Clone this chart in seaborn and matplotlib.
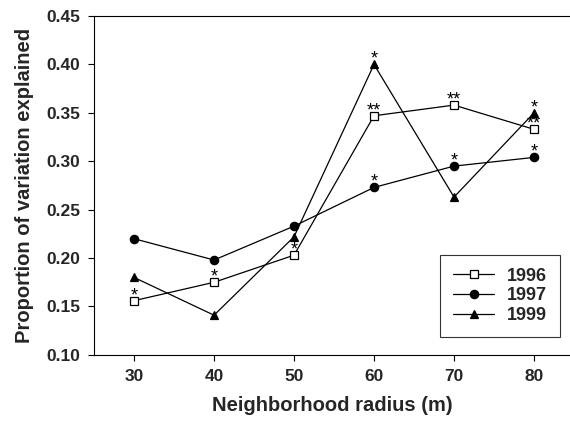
import matplotlib
matplotlib.use("Agg")
import matplotlib.pyplot as plt
import seaborn as sns
import pandas as pd

radius = [30, 40, 50, 60, 70, 80]
v1996 = [0.156, 0.175, 0.203, 0.347, 0.358, 0.333]
v1997 = [0.220, 0.198, 0.233, 0.273, 0.295, 0.304]
v1999 = [0.180, 0.141, 0.222, 0.400, 0.263, 0.350]
sig1996 = ["*", "*", "*", "**", "**", "**"]
sig1997 = ["", "", "", "*", "*", "*"]
sig1999 = ["", "", "", "*", "", "*"]
yticks = [0.10, 0.15, 0.20, 0.25, 0.30, 0.35, 0.40, 0.45]
xticks = [30, 40, 50, 60, 70, 80]

sns.set_style("white")
plt.rcParams['font.family'] = ['Liberation Sans', 'DejaVu Sans']

fig = plt.figure(figsize=(5.7, 4.22), dpi=100)
ax = fig.add_axes([0.165, 0.159, 0.835, 0.803])

series = [
    ("1996", v1996, sig1996, dict(marker="s", markerfacecolor="white", markeredgecolor="black", markersize=5.5)),
    ("1997", v1997, sig1997, dict(marker="o", markerfacecolor="black", markeredgecolor="black", markersize=6)),
    ("1999", v1999, sig1999, dict(marker="^", markerfacecolor="black", markeredgecolor="black", markersize=6)),
]

for name, vals, sigs, mk in series:
    df = pd.DataFrame({"radius": radius, "value": vals})
    sns.lineplot(data=df, x="radius", y="value", ax=ax, color="black", linewidth=0.9,
                 label=name, markeredgewidth=0.9, **mk)
    for x, y, s in zip(radius, vals, sigs):
        if s:
            ax.annotate(s, (x, y), xytext=(0, 0.5), textcoords="offset points",
                        ha="center", va="baseline", fontsize=13, color="black",
                        zorder=10)

ax.set_xlim(25, 84.5)
ax.set_ylim(0.10, 0.45)
ax.set_xticks(xticks)
ax.set_yticks(yticks)
ax.set_xticklabels([str(x) for x in xticks], fontsize=12.5, fontweight="bold")
ax.set_yticklabels([f"{y:.2f}" for y in yticks], fontsize=12.5, fontweight="bold")
ax.tick_params(axis="both", direction="out", length=4, width=0.8, color="black",
               bottom=True, left=True, pad=6)
ax.set_xlabel("Neighborhood radius (m)", fontsize=14.5, fontweight="bold", labelpad=9)
ax.set_ylabel("Proportion of variation explained", fontsize=14.5, fontweight="bold", labelpad=9)

for side in ["left", "bottom", "top"]:
    ax.spines[side].set_visible(True)
    ax.spines[side].set_color("black")
    ax.spines[side].set_linewidth(0.8)
ax.spines["right"].set_visible(False)

leg = ax.legend(loc="upper right", bbox_to_anchor=(0.982, 0.396),
                bbox_transform=fig.transFigure, frameon=True, fancybox=False,
                prop={"weight": "bold", "size": 13}, handlelength=2.3,
                borderpad=0.7, labelspacing=0.15, handletextpad=0.7, borderaxespad=0)
leg.get_frame().set_edgecolor("black")
leg.get_frame().set_linewidth(0.8)

fig.savefig("out.png", dpi=100)
